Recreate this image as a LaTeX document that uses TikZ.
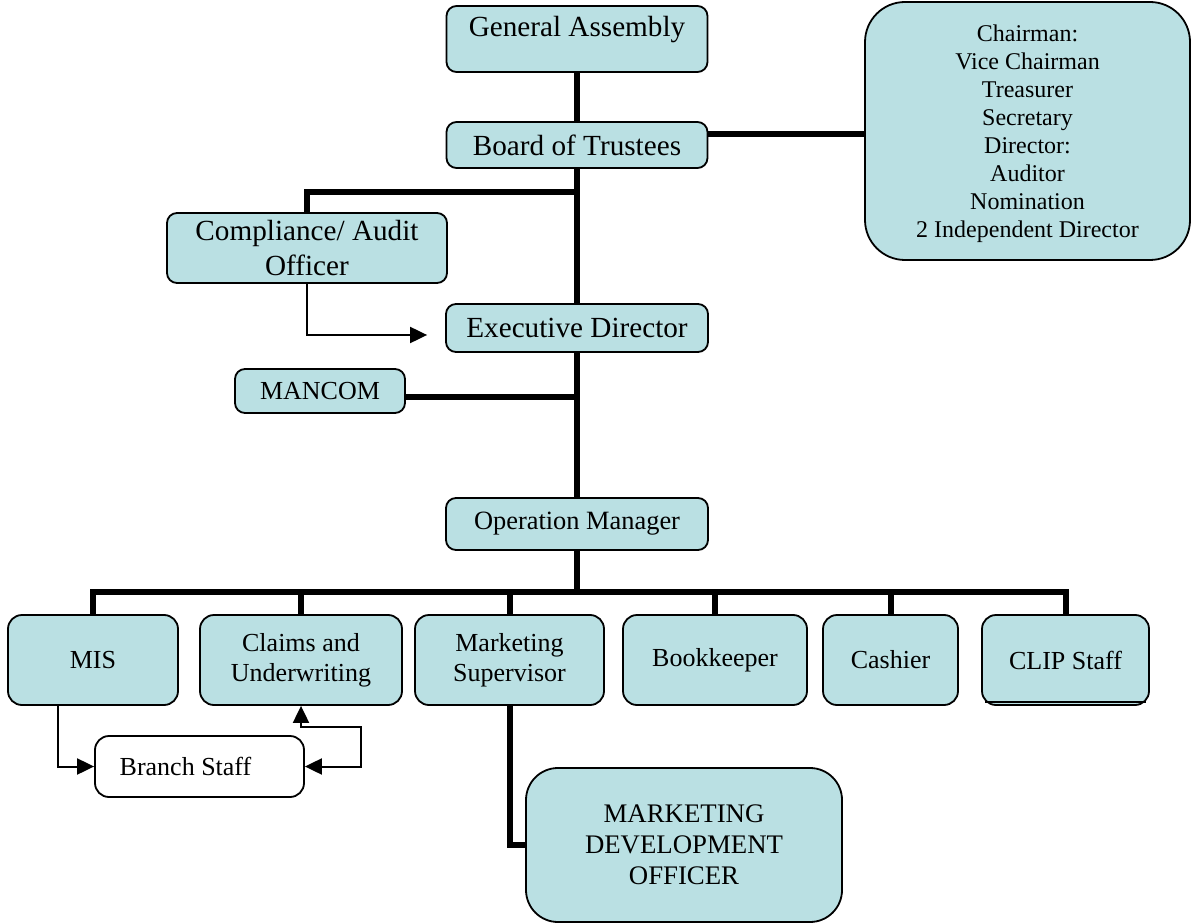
\documentclass[tikz,border=0pt]{standalone}
\usepackage{fontspec}
\setmainfont{Liberation Serif}
\usetikzlibrary{arrows.meta, positioning, calc}
\definecolor{BoxBlue}{HTML}{BAE0E3}
\definecolor{LineInk}{HTML}{000000}

\begin{document}
\begin{tikzpicture}[
    x=0.5pt,
    y=-0.5pt,
    >={Triangle[length=8.5pt, width=8pt]},
    orgbox/.style={draw=LineInk, fill=BoxBlue, line width=0.9pt, rounded corners=5pt, align=center, inner sep=2pt, font=\fontsize{14.6}{17.5}\selectfont},
    unitbox/.style={orgbox, rounded corners=7pt, minimum height=45pt, font=\fontsize{13}{15}\selectfont},
    bigbox/.style={orgbox, rounded corners=16pt, font=\fontsize{13.4}{15.5}\selectfont},
    trunk/.style={draw=LineInk, line width=3pt},
    feed/.style={->, draw=LineInk, line width=1pt}
]

\fill[white] (0,0) rectangle (1192,924);
\useasboundingbox (0,0) rectangle (1192,924);

% top of the chart
\node[orgbox, minimum width=130.5pt, text height=11pt, text depth=13pt, inner ysep=4.5pt] (general) at (577,39) {General Assembly};
\node[orgbox, minimum width=130.5pt, minimum height=23pt] (board) at (577,145) {Board of Trustees};
\node[orgbox, rounded corners=20pt, minimum width=162.5pt, minimum height=129pt, text depth=0pt, font=\fontsize{12}{14}\selectfont] (council) at (1027.5,131)
{Chairman:\\ Vice Chairman\\ Treasurer\\ Secretary\\ Director:\\ Auditor\\ Nomination\\ 2 Independent Director};
\node[orgbox, minimum width=140pt, minimum height=35pt] (compliance) at (307,248) {Compliance/ Audit\\ Officer};
\node[orgbox, minimum width=131pt, minimum height=24pt] (executive) at (577,328) {Executive Director};
\node[orgbox, minimum width=85pt, minimum height=22pt, font=\fontsize{13}{15}\selectfont] (mancom) at (320,391) {MANCOM};
\node[orgbox, minimum width=131pt, minimum height=26pt, font=\fontsize{13.2}{15}\selectfont] (operation) at (577,524) {Operation Manager};

% units under the operation manager
\node[unitbox, minimum width=85pt] (mis) at (93,660) {MIS};
\node[unitbox, minimum width=101pt] (claims) at (301,660) {Claims and\\ Underwriting};
\node[unitbox, minimum width=94.5pt] (marketing) at (509.5,660) {Marketing\\ Supervisor};
\node[unitbox, minimum width=92pt] (bookkeeper) at (715,660) {Bookkeeper};
\node[unitbox, minimum width=67.5pt] (cashier) at (890.5,660) {Cashier};
\node[unitbox, minimum width=83.5pt] (clip) at (1065.5,660) {CLIP Staff};
\node[unitbox, fill=white, minimum width=104.5pt, minimum height=30.5pt] (branch) at (199.5,766.5) {Branch Staff\hspace*{14pt}};
\node[bigbox, minimum width=158pt, minimum height=77pt] (mdo) at (684,845) {MARKETING\\ DEVELOPMENT\\ OFFICER};

\draw[line width=0.9pt] ([xshift=2pt, yshift=2pt]clip.south west) -- ([xshift=-2pt, yshift=2pt]clip.south east);

\coordinate (boardjoin) at (577,192);
\coordinate (opjoin) at (577,592);
\coordinate (claimsloop) at (361,727);

% lines of authority
\draw[trunk] (general) -- (board);
\draw[trunk] (board) -- (executive);
\draw[trunk] (executive) -- (operation);
\draw[trunk] ([yshift=5.5pt]board.east) -- ([yshift=5.5pt]board.east -| council.west);
\draw[trunk] (compliance.north) |- (boardjoin);
\draw[trunk] ([yshift=-3pt]mancom.east) -- ([yshift=-3pt]mancom.east -| executive.south);
\draw[trunk] (operation) -- (opjoin);
\foreach \unit in {mis, claims, marketing, bookkeeper, cashier, clip}
    \draw[trunk] (opjoin) -| (\unit.north);
\draw[trunk] (marketing.south) |- (mdo.west);

% reporting arrows
\draw[feed] (compliance.south) |- ([yshift=-3.5pt, xshift=-9pt]executive.west);
\draw[feed] ([xshift=-17.5pt]mis.south) |- (branch.west);
\draw[feed, <->] (claims.south) |- (claimsloop) |- (branch.east);

\end{tikzpicture}
\end{document}
